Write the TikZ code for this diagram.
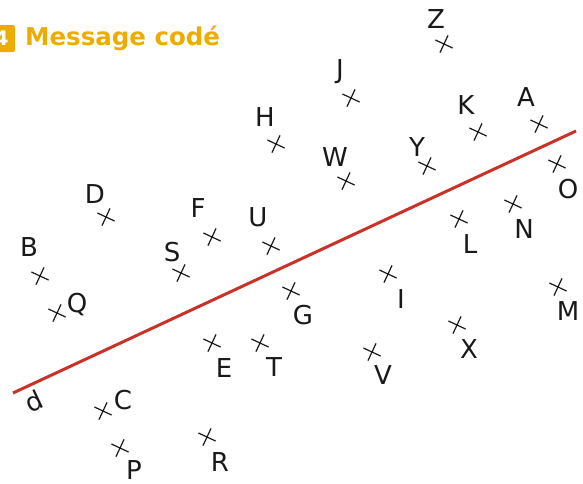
\documentclass[tikz,border=0pt]{standalone}
\usepackage{fontspec}
\setmainfont{DejaVu Sans}
\usetikzlibrary{positioning}
\definecolor{gold}{RGB}{236,172,0}
\definecolor{brick}{RGB}{200,50,40}
\definecolor{ink}{RGB}{25,25,25}
\tikzset{
  lettre/.style={inner sep=0pt,text=ink,text height=19pt,text depth=0pt,
    font=\fontsize{26}{26}\selectfont},
  pics/croix/.style={code={
    \draw[ink,line width=1.2pt,rotate=-25] (-9.5,0) -- (9.5,0) (0,-9.5) -- (0,9.5);
  }},
  droite/.style={draw=brick,line width=3pt},
}
\begin{document}
\begin{tikzpicture}[x=1pt,y=-1pt]
  \useasboundingbox (0,0) rectangle (583,483);
  % title
  \node[fill=gold,rounded corners=2pt,minimum width=27pt,minimum height=27pt,
    text=white,font=\bfseries\fontsize{20}{20}\selectfont] (badge) at (1.5,38.5) {4};
  \node[anchor=base west,inner sep=0pt,text=gold,
    font=\bfseries\fontsize{24.5}{24.5}\selectfont] (titre) at (25,45) {Message codé};
  % the line d
  \coordinate (d1) at (13,393);
  \coordinate (d2) at (576,131);
  \draw[droite] (d1) -- (d2);
  \node[lettre,rotate=25] (ld) at (34,401) {d};
  % points and their letters
  \foreach \n/\x/\y/\lx/\ly in {
      Z/444/44/436/19, J/351/98/340/69, H/276/144/265/117, W/346/181/335/157,
      Y/427/166/417/147, K/478/132/466/105, A/539/124/526/97, O/557/164/568/189,
      N/513/204/524/229, L/459/219/470/244, D/106/217/95/194, F/212/237/198/208,
      U/271/246/258/217, S/181/273/172/252, B/40/276/29/247, Q/57/313/77/303,
      G/291/291/303/315, I/388/274/401/299, M/558/287/568/311, X/457/325/469/349,
      V/372/352/383/375, E/212/343/224/368, T/260/343/274/367, C/103/411/123/400,
      P/120/448/134/470, R/207/437/220/462}{
    \coordinate (\n) at (\x,\y);
    \pic at (\n) {croix};
    \node[lettre] (l\n) at (\lx,\ly) {\n};
  }
\end{tikzpicture}
\end{document}
